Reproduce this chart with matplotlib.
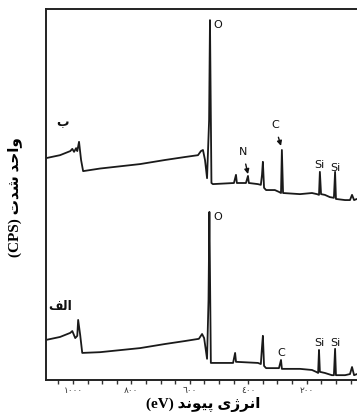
import matplotlib.pyplot as plt
from matplotlib.ticker import FixedLocator, MultipleLocator

# Spectrum (b) - upper curve: binding energy (eV) and intensity (a.u.)
energy_b = [1092, 1044, 1009, 1002, 996, 989, 985, 979, 972, 965, 907, 770, 685, 617, 572,
            562, 555, 548, 541, 534, 531, 526, 521, 449, 442, 439, 408, 401, 398, 367, 357,
            353, 350, 346, 339, 309, 295, 288, 285, 281, 223, 182, 165, 158, 155, 151, 138,
            121, 107, 103, 100, 69, 52, 45, 38, 28]
counts_b = [59.8, 60.6, 61.7, 62.3, 61.5, 62.5, 61.7, 64.2, 59.3, 56.3, 57.0, 58.2, 59.3, 60.1, 60.6,
            61.7, 62.0, 59.3, 54.4, 70.0, 97.0, 53.1, 52.8, 53.1, 55.3, 53.1, 53.1, 55.0, 53.1, 52.8, 52.6,
            55.3, 58.8, 51.8, 51.2, 51.2, 50.7, 50.4, 62.0, 50.4, 50.1, 50.4, 50.1, 49.9, 56.1, 50.1, 49.9,
            49.3, 49.1, 56.1, 48.8, 48.5, 48.5, 49.9, 48.5, 48.8]

# Spectrum (alef) - lower curve
energy_a = [1092, 1044, 1009, 1002, 992, 985, 982, 975, 968, 907, 770, 685, 617, 569,
            558, 551, 541, 536, 533, 528, 521, 452, 445, 442, 367, 357, 353, 350, 346, 339,
            295, 288, 285, 223, 182, 168, 161, 158, 155, 138, 114, 107, 103, 100, 69, 52,
            45, 38, 28]
counts_a = [10.8, 11.6, 12.7, 13.2, 11.3, 11.9, 16.2, 12.1, 7.3, 7.5, 8.6, 9.7, 10.5, 11.1,
            12.4, 11.3, 5.7, 21.6, 45.3, 4.6, 4.6, 4.6, 7.3, 4.9, 4.6, 4.3, 8.9, 11.9, 3.8, 3.2,
            3.2, 5.4, 3.0, 3.0, 2.7, 2.2, 1.9, 8.1, 2.2, 1.9, 1.3, 1.3, 8.4, 1.3, 1.3, 1.6,
            3.5, 1.3, 1.6]

tick_values = [1000, 800, 600, 400, 200]
tick_labels = ['١٠٠٠', '٨٠٠', '٦٠٠', '٤٠٠', '٢٠٠']

# Persian labels written in presentation forms, visual order
label_b = '\uFE8F'                                   # ب
label_a = '\uFED2\uFEDF\uFE8D'                       # الف
ylabel = '(CPS) \uFE95\uFEAA\uFEB7 \uFEAA\uFEA3\uFE8D\uFEED'          # واحد شدت (CPS)
xlabel = '(eV) \uFEAA\uFEE7\uFEEE\uFBFF\uFB58 \uFBFC\uFB8A\uFEAE\uFEE7\uFE8D'  # انرژی پیوند (eV)

fig = plt.figure(figsize=(3.57, 4.12), dpi=100)
ax = fig.add_axes([46 / 357, 32 / 412, 1 - 46 / 357, 371 / 412])

ax.plot(energy_b, counts_b, color='#1a1a1a', linewidth=1.3)
ax.plot(energy_a, counts_a, color='#1a1a1a', linewidth=1.3)

ax.set_xlim(1092, 28)
ax.set_ylim(0, 100)

for side in ['left', 'top', 'bottom']:
    ax.spines[side].set_linewidth(1.4)
    ax.spines[side].set_color('#222222')
ax.spines['right'].set_visible(False)

ax.set_yticks([])
ax.xaxis.set_major_locator(FixedLocator(tick_values))
ax.set_xticklabels(tick_labels, fontsize=6.5, color='#333333', family=['DejaVu Sans'])
ax.xaxis.set_minor_locator(MultipleLocator(50))
ax.tick_params(axis='x', which='both', direction='out', length=3, width=1, color='#333333', pad=1.5)

serif_bold = dict(family=['Liberation Serif', 'DejaVu Sans'], fontweight='bold', fontsize=11)
ax.set_xlabel(xlabel, **serif_bold)
ax.xaxis.set_label_coords(0.505, -0.045)
ax.set_ylabel(ylabel, **serif_bold)
ax.yaxis.set_label_coords(-0.078, 0.493)

# peak labels
pk = dict(fontsize=8, color='#111111', family=['DejaVu Sans'])
arrow = dict(arrowstyle='-|>', color='#111111', lw=1, mutation_scale=7, shrinkA=3, shrinkB=0)
ax.text(521, 95.7, 'O', ha='left', va='center', **pk)
ax.text(521, 43.9, 'O', ha='left', va='center', **pk)
ax.text(158, 58.0, 'Si', ha='center', va='center', **pk)
ax.text(103, 57.1, 'Si', ha='center', va='center', **pk)
ax.text(158, 10.0, 'Si', ha='center', va='center', **pk)
ax.text(103, 10.0, 'Si', ha='center', va='center', **pk)
ax.text(288, 7.3, 'C', ha='center', va='center', **pk)
ax.annotate('N', xy=(401, 55.5), xytext=(418, 61.4), ha='center', va='center',
            arrowprops=arrow, **pk)
ax.annotate('C', xy=(288, 63.1), xytext=(309, 68.6), ha='center', va='center',
            arrowprops=arrow, **pk)

curve_lbl = dict(family=['DejaVu Sans'], fontweight='bold', fontsize=9, color='#111111')
ax.text(1037, 69.5, label_b, ha='center', va='center', **curve_lbl)
ax.text(1044, 19.9, label_a, ha='center', va='center', **curve_lbl)

fig.savefig('out.png', dpi=100)
